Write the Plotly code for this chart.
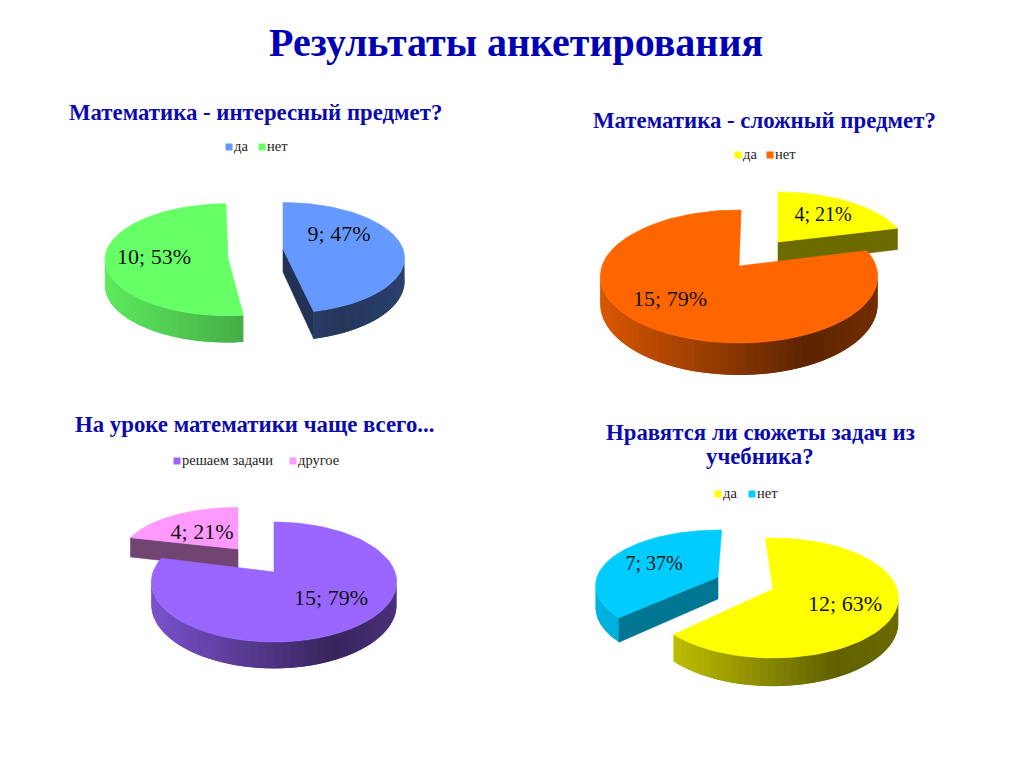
import numpy as np
import plotly.graph_objects as go

MAIN_TITLE = "Результаты анкетирования"

# ---- data ----
titles = [["Математика - интересный предмет?"],
          ["Математика - сложный предмет?"],
          ["На уроке математики чаще всего..."],
          ["Нравятся ли сюжеты задач из", "учебника?"]]
cats1 = ["да", "нет"]
vals1 = [9, 10]
cats2 = ["да", "нет"]
vals2 = [4, 15]
cats3 = ["решаем задачи", "другое"]
vals3 = [15, 4]
cats4 = ["да", "нет"]
vals4 = [12, 7]
colors1 = ["#6699FF", "#66FF66"]
colors2 = ["#FFFF00", "#FF6600"]
colors3 = ["#9966FF", "#FF99FF"]
colors4 = ["#FFFF00", "#00CCFF"]

# ---- layout of each drawn 3D pie (pixels of the slide) ----
# slice: apex x/y, radii, perspective k, depth, start/end nudge in degrees, cut face shown, shading
geo1 = [dict(cx=283, cy=249, rx=120, ry=54, k=.16, d=23, n0=0, n1=-3, cut0=False, cut1=True, shade=(.62, .36, .42), cutc=.33, lab=(339, 235), fs=22),
        dict(cx=228, cy=258, rx=123, ry=56, k=.03, d=26, n0=2.5, n1=-1, cut0=False, cut1=False, shade=(.92, .60, .52), cutc=.5, lab=(154, 258), fs=22)]
geo2 = [dict(cx=778, cy=242, rx=128, ry=58, k=.158, d=22, n0=0, n1=0, cut0=False, cut1=True, shade=(.5, .4, .4), cutc=.42, lab=(823, 216), fs=20),
        dict(cx=739, cy=266, rx=137, ry=64.8, k=.158, d=27, n0=0, n1=1, cut0=False, cut1=False, shade=(.85, .36, .45), cutc=.4, lab=(670, 300), fs=22)]
geo3 = [dict(cx=274, cy=572, rx=121, ry=58.3, k=.167, d=22, n0=0, n1=0, cut0=False, cut1=False, shade=(.80, .36, .48), cutc=.4, lab=(331, 599), fs=22),
        dict(cx=238, cy=549, rx=115, ry=48, k=.15, d=20, n0=0, n1=0, cut0=True, cut1=False, shade=(.5, .45, .45), cutc=.45, lab=(202, 533), fs=22)]
geo4 = [dict(cx=773, cy=589, rx=124, ry=58.6, k=.15, d=24, n0=-4, n1=-1.5, cut0=False, cut1=False, shade=(.80, .38, .42), cutc=.4, lab=(845, 605), fs=22),
        dict(cx=718, cy=577, rx=121, ry=54, k=.15, d=22, n0=0, n1=2, cut0=True, cut1=False, shade=(.88, .75, .7), cutc=.58, lab=(654, 565), fs=20)]
title_pos = [(255, 112), (764, 120), (254, 424), (760, 432)]
title_line_gap = 24.5
legend_pos = [[(229, 147), (262, 147)], [(738, 155), (770, 155)], [(177, 461), (293, 461)], [(718, 494), (752, 494)]]
legend_text_dx = 5
draw_order = [[0, 1], [0, 1], [1, 0], [0, 1]]

fig = go.Figure()


def scaled(hexc, f):
    r, g, b = int(hexc[1:3], 16), int(hexc[3:5], 16), int(hexc[5:7], 16)
    return f"rgb({int(r*f)},{int(g*f)},{int(b*f)})"


def proj(g, deg):
    t = np.radians(deg)
    u, v = np.sin(t), np.cos(t)
    s = 1 / (1 + g["k"] * v)
    return g["cx"] + g["rx"] * u * s, g["cy"] - g["ry"] * v * s, g["d"] * s, v


def poly(xs, ys, color, name, lw=0.6):
    fig.add_trace(go.Scatter(x=list(xs), y=list(ys), mode="lines", fill="toself", fillcolor=color,
                             line=dict(color=color, width=lw), hoverinfo="skip", showlegend=False, name=name))


def draw_slice(g, a0, a1, color, name):
    a0, a1 = a0 + g["n0"], a1 + g["n1"]
    # outer wall: overlapping strips painted one over the other, shaded from left to right
    steps = list(np.arange(a0, a1, 3.0)) + [a1]
    left, low, right = g["shade"]
    for n in range(len(steps) - 1):
        p, q = steps[n], steps[n + 1]
        _, _, _, v0 = proj(g, p)
        _, _, _, v1 = proj(g, q)
        if max(v0, v1) > -g["k"] + 0.02:
            continue
        end = steps[min(n + 2, len(steps) - 1)]
        if proj(g, end)[3] > -g["k"] + 0.02:
            end = q
        arc = np.linspace(p, end, 5)
        xs, ys, ds, _ = proj(g, arc)
        xm = proj(g, (p + q) / 2)[0]
        frac = (xm - (g["cx"] - g["rx"])) / (2 * g["rx"])
        f = left + (low - left) * frac / .75 if frac < .75 else low + (right - low) * (frac - .75) / .25
        poly([*xs, *xs[::-1], xs[0]], [*ys, *(ys + ds)[::-1], ys[0]], scaled(color, f), name, lw=0)
    # cut face towards the viewer
    for flag, ang in ((g["cut0"], a0), (g["cut1"], a1)):
        if flag:
            x0, y0, d0, _ = proj(g, ang)
            poly([g["cx"], x0, x0, g["cx"], g["cx"]], [g["cy"], y0, y0 + d0, g["cy"] + g["d"], g["cy"]],
                 scaled(color, g["cutc"]), name)
    # top face
    arc = np.linspace(a0, a1, 90)
    xs, ys, _, _ = proj(g, arc)
    poly([g["cx"], *xs, g["cx"]], [g["cy"], *ys, g["cy"]], color, name)


all_charts = [(cats1, vals1, colors1, geo1), (cats2, vals2, colors2, geo2),
              (cats3, vals3, colors3, geo3), (cats4, vals4, colors4, geo4)]

for i, (cats, vals, cols, geo) in enumerate(all_charts):
    total = sum(vals)
    edges = np.cumsum([0] + vals) / total * 360
    for j in draw_order[i]:
        draw_slice(geo[j], edges[j], edges[j + 1], cols[j], cats[j])
    for j in range(len(vals)):
        lx, ly = geo[j]["lab"]
        fig.add_trace(go.Scatter(x=[lx], y=[ly], mode="text", text=[f"{vals[j]}; {round(vals[j] / total * 100)}%"],
                                 textposition="middle center", showlegend=False, hoverinfo="skip",
                                 textfont=dict(family="Liberation Serif", size=geo[j]["fs"], color="#111111")))
        mx, my = legend_pos[i][j]
        fig.add_trace(go.Scatter(x=[mx], y=[my], mode="markers", marker=dict(symbol="square", size=7, color=cols[j]),
                                 showlegend=False, hoverinfo="skip"))
        fig.add_trace(go.Scatter(x=[mx + legend_text_dx], y=[my], mode="text", text=[cats[j]], textposition="middle right",
                                 showlegend=False, hoverinfo="skip",
                                 textfont=dict(family="Liberation Serif", size=14.5, color="#222222")))
    tx, ty = title_pos[i]
    for n, line in enumerate(titles[i]):
        fig.add_annotation(x=tx, y=ty + n * title_line_gap, text=f"<b>{line}</b>", showarrow=False,
                           xanchor="center", yanchor="middle", align="center",
                           font=dict(family="Liberation Serif", size=22.8, color="#0A0AAE"))

fig.add_annotation(x=516, y=42, text=f"<b>{MAIN_TITLE}</b>", showarrow=False, xanchor="center", yanchor="middle",
                   font=dict(family="Liberation Serif", size=40, color="#0000B4"))

fig.update_layout(width=1024, height=767, margin=dict(l=0, r=0, t=0, b=0), paper_bgcolor="white", plot_bgcolor="white",
                  xaxis=dict(range=[0, 1024], visible=False, fixedrange=True),
                  yaxis=dict(range=[767, 0], visible=False, fixedrange=True), showlegend=False)
fig.write_html("out.html", post_script="document.body.style.margin='0';document.body.style.overflow='hidden';",
               config=dict(displayModeBar=False))
